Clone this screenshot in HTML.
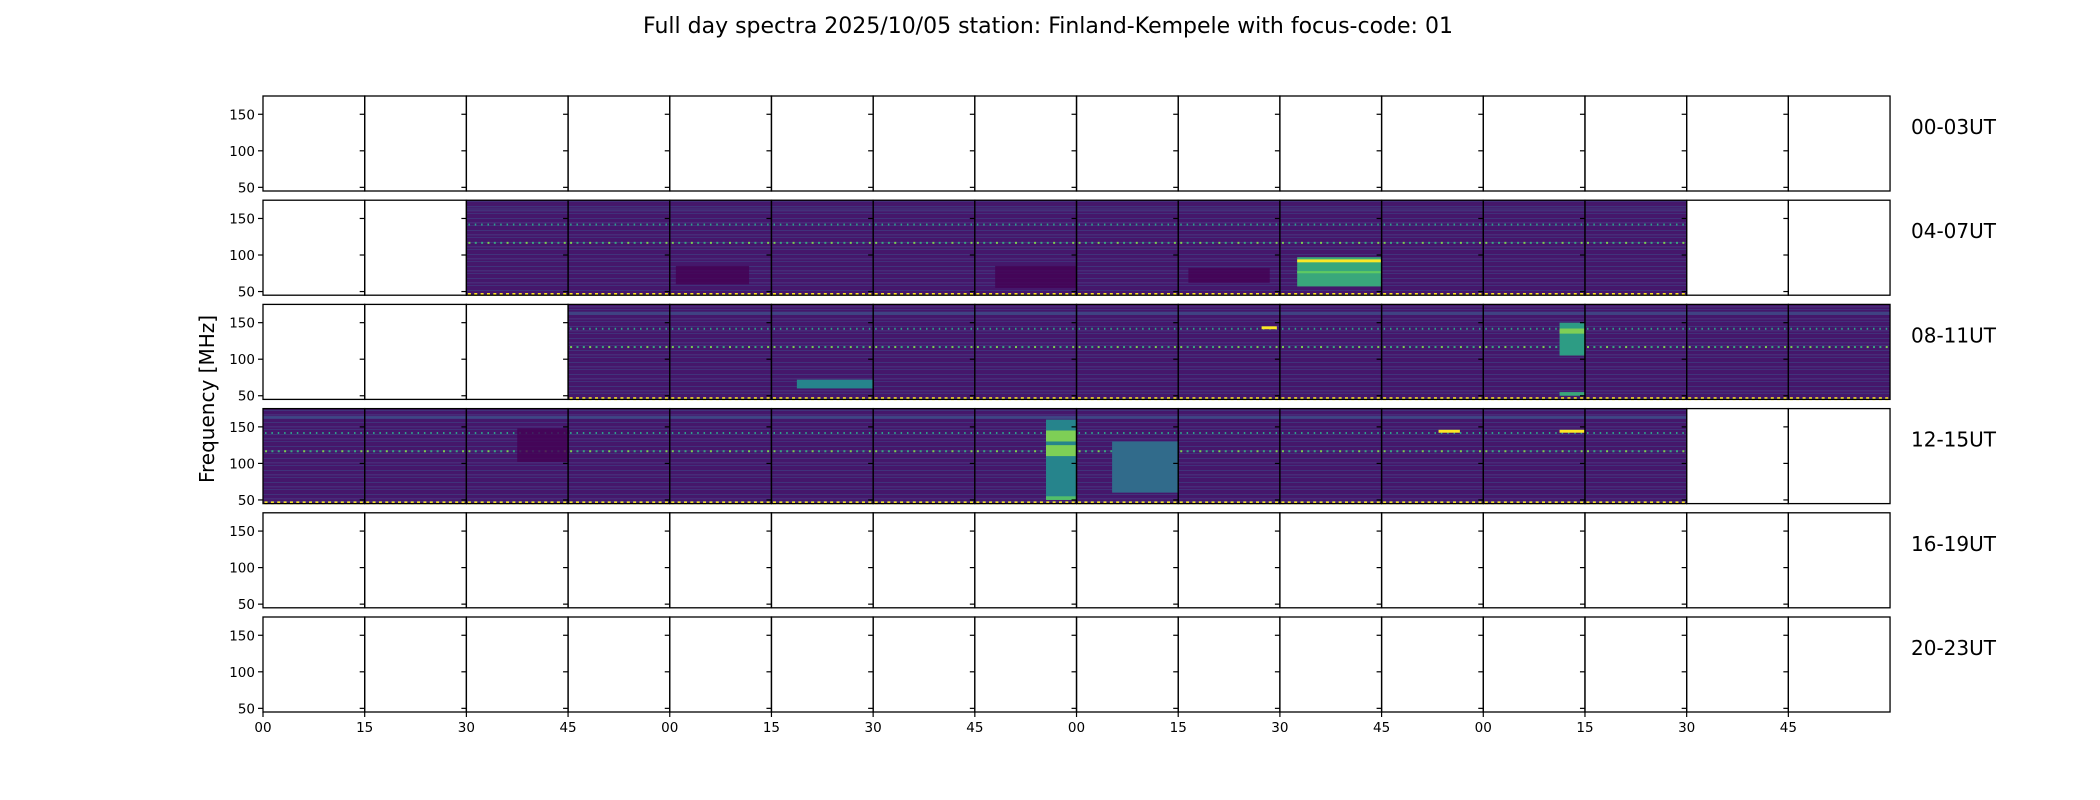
<!DOCTYPE html>
<html><head><meta charset="utf-8"><style>
body{margin:0;background:#fff;}
svg{display:block;font-family:"DejaVu Sans","Liberation Sans",sans-serif;}
</style></head><body>
<svg id="chart" width="2100" height="800" viewBox="0 0 2100 800">
<defs>
<pattern id="stripes" width="101.69" height="12" patternUnits="userSpaceOnUse">
<rect width="101.69" height="12" fill="#45176b"/>
<rect y="2" width="101.69" height="1" fill="#3f3a80" opacity="0.8"/>
<rect y="6" width="101.69" height="1.5" fill="#47307c" opacity="0.8"/>
<rect y="9" width="101.69" height="1" fill="#3e4a89" opacity="0.5"/>
</pattern>
</defs>
<text x="1048" y="33" font-size="22" text-anchor="middle">Full day spectra 2025/10/05 station: Finland-Kempele with focus-code: 01</text>
<text transform="translate(214,399) rotate(-90)" font-size="20" text-anchor="middle">Frequency [MHz]</text>
<g id="plots"></g>
</svg>
<script>
const rowLabels=["00-03UT","04-07UT","08-11UT","12-15UT","16-19UT","20-23UT"];
const xTickLabels=["00","15","30","45","00","15","30","45","00","15","30","45","00","15","30","45"];
const yTicks=[50,100,150];
// active spectrum panels per row: [firstCol, lastCol]
const activeStart=[null,2,3,0,null,null];
const activeEnd=[null,13,15,13,null,null];
// bursts: row, col, tStart(frac), tEnd(frac), fLow, fHigh, level(0-1)
const burstRow=[1,1,1,2,2,2,2,3,3,3,3,3,3,3,2];
const burstCol=[10,10,10,5,12,12,12,7,7,7,7,8,11,12,9];
const burstT0=[0.17,0.17,0.17,0.25,0.75,0.75,0.75,0.7,0.7,0.7,0.7,0.35,0.56,0.75,0.82];
const burstT1=[1,1,1,1,1,1,1,1,1,1,1,1,0.77,1,0.97];
const burstF0=[57,90,75,60,105,135,50,50,110,130,50,60,142,142,141];
const burstF1=[97,94,78,72,150,142,55,160,125,145,55,130,146,146,145];
const burstLvl=[0.6,1,0.75,0.45,0.55,0.8,0.6,0.45,0.8,0.8,0.7,0.35,1,1,1];
// dark regions: row,col,t0,t1,f0,f1
const darkRow=[1,1,1,3];
const darkCol=[4,7,9,2];
const darkT0=[0.06,0.2,0.1,0.5];
const darkT1=[0.78,1,0.9,1];
const darkF0=[60,55,62,102];
const darkF1=[85,85,82,148];
const F_MIN=45,F_MAX=175,NCOL=16;
const X0=263,CW=101.69,Y0=96,RP=104.2,RH=95;
const NS="http://www.w3.org/2000/svg";
const g=document.getElementById('plots');
function el(t,a,p){const e=document.createElementNS(NS,t);for(const k in a)e.setAttribute(k,a[k]);(p||g).appendChild(e);return e;}
function xs(c,frac){return X0+(c+frac)*CW;}
function ys(r,f){return Y0+r*RP+(F_MAX-f)/(F_MAX-F_MIN)*RH;}
function viridis(v){const s=[[68,1,84],[59,82,139],[33,145,140],[94,201,98],[253,231,37]];const p=Math.max(0,Math.min(1,v))*4;const i=Math.min(3,Math.floor(p)),t=p-i;const c=s[i].map((a,k)=>Math.round(a+(s[i+1][k]-a)*t));return`rgb(${c})`;}
for(let r=0;r<6;r++){
 const top=Y0+r*RP;
 if(activeStart[r]!==null){
  for(let c=activeStart[r];c<=activeEnd[r];c++){
   const bg=el('rect',{x:xs(c,0),y:top,width:CW,height:RH,fill:'url(#stripes)'});
   
   
   el('rect',{x:xs(c,0),y:ys(r,165),width:CW,height:3,fill:'#3d4e8a',opacity:r>=2?0.8:0.3});
   for(let k=0;k<16;k++){
    el('rect',{x:xs(c,k/16+0.02),y:ys(r,143),width:1.5,height:2,fill:'#2fa08a'});
    el('rect',{x:xs(c,k/16+0.02),y:ys(r,118),width:2,height:2,fill:k%3?'#3aa57f':'#7ad151'});
    el('rect',{x:xs(c,k/16+0.015),y:ys(r,48),width:3,height:3,fill:'#fde725'});
   }
  }
  for(let i=0;i<darkRow.length;i++){if(darkRow[i]!==r)continue;
   el('rect',{x:xs(darkCol[i],darkT0[i]),y:ys(r,darkF1[i]),width:(darkT1[i]-darkT0[i])*CW,height:ys(r,darkF0[i])-ys(r,darkF1[i]),fill:'#440154',opacity:0.8});}
  for(let i=0;i<burstRow.length;i++){if(burstRow[i]!==r)continue;
   const b=el('rect',{x:xs(burstCol[i],burstT0[i]),y:ys(r,burstF1[i]),width:(burstT1[i]-burstT0[i])*CW,height:ys(r,burstF0[i])-ys(r,burstF1[i]),fill:viridis(burstLvl[i])});
   
   }
 }
 for(let c=0;c<NCOL;c++){
  const f=el('rect',{x:xs(c,0),y:top,width:CW,height:RH,fill:'none',stroke:'#000','stroke-width':1.3});
  
  
  for(const v of yTicks){el('line',{x1:xs(c,0)-5,x2:xs(c,0),y1:ys(r,v),y2:ys(r,v),stroke:'#000','stroke-width':1.2});}
 }
 for(const v of yTicks){
  const t=el('text',{x:X0-8,y:ys(r,v)+5,'font-size':13.5,'text-anchor':'end'});t.textContent=v;
  
  
 }
 const rl=el('text',{x:1911,y:top+38,'font-size':20});rl.textContent=rowLabels[r];
 
 
}
const bottom=Y0+5*RP+RH;
for(let c=0;c<xTickLabels.length;c++){
 el('line',{x1:xs(c,0),x2:xs(c,0),y1:bottom,y2:bottom+5,stroke:'#000','stroke-width':1.2});
 const t=el('text',{x:xs(c,0),y:bottom+20,'font-size':13.5,'text-anchor':'middle'});t.textContent=xTickLabels[c];
 
 
}
</script>
</body></html>
